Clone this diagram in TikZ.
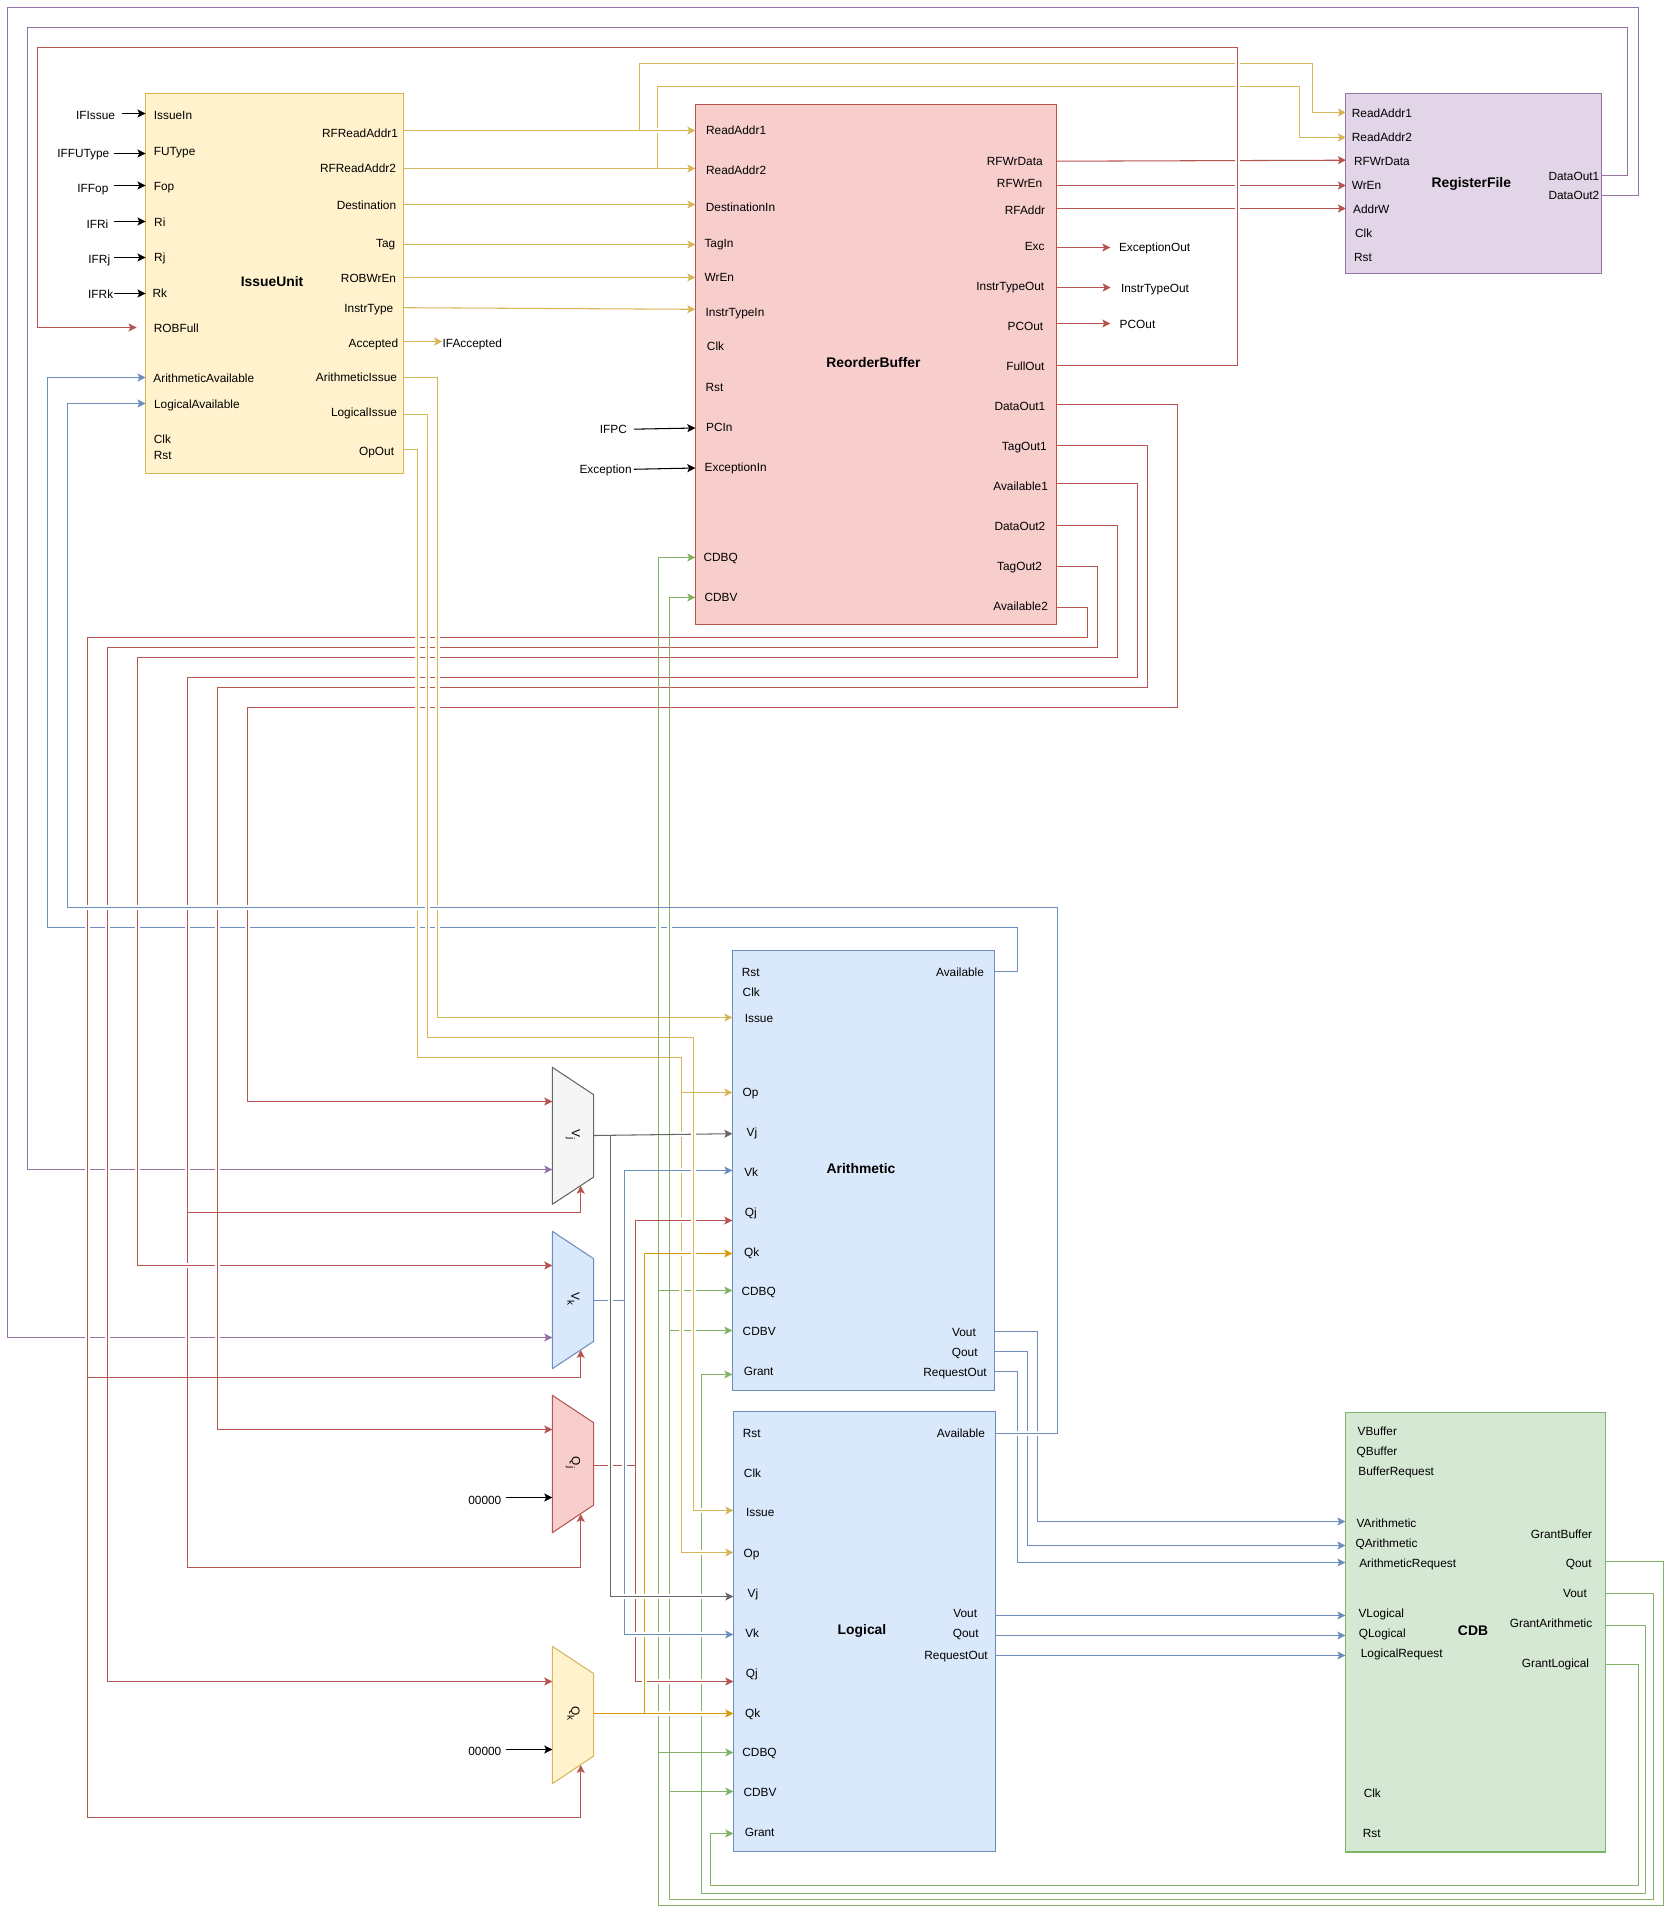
\documentclass[tikz,border=0pt]{standalone}
\usepackage{fontspec}
\setmainfont{Liberation Sans}
\usetikzlibrary{arrows.meta}
\definecolor{yellowfill}{HTML}{FFF2CC}
\definecolor{yellowline}{HTML}{D6B656}
\definecolor{redfill}{HTML}{F8CECC}
\definecolor{redline}{HTML}{B85450}
\definecolor{bluefill}{HTML}{DAE8FC}
\definecolor{blueline}{HTML}{6C8EBF}
\definecolor{greenfill}{HTML}{D5E8D4}
\definecolor{greenline}{HTML}{82B366}
\definecolor{purplefill}{HTML}{E1D5E7}
\definecolor{purpleline}{HTML}{9673A6}
\definecolor{greyfill}{HTML}{F5F5F5}
\definecolor{greyline}{HTML}{666666}
\definecolor{orangeline}{HTML}{D79B00}
\newcommand{\boxtitle}[1]{\kern-.1cm\raisebox{.06cm}{#1}}
\newcommand{\muxname}[2]{\raisebox{.1cm}{\kern-.06cm#1\raisebox{-.08cm}{\fontsize{5.6}{6}\selectfont #2}}}
\newcommand{\hop}[2]{\fill[white] (#1-2.5,#2-2.5) rectangle ++(5,5);}
\tikzset{
  block/.style={rectangle, inner sep=0pt, outer sep=0pt, line width=.6pt, font=\fontsize{7.9}{9}\selectfont\bfseries},
  muxbody/.style={line width=.6pt},
  muxtag/.style={rectangle, inner sep=0pt, outer sep=0pt, rotate=-90, minimum width=2.74cm, minimum height=.828cm, font=\fontsize{6.75}{8}\selectfont},
  lbl/.style={inner sep=0pt, yshift=-.02cm, text height=.17cm, text depth=0pt, font=\fontsize{6.75}{8}\selectfont},
  lblup/.style={lbl, yshift=.02cm},
  wire/.style={line width=.6pt},
  arr/.style={-{Stealth[length=1.6mm,width=1.6mm,inset=.35mm]}},
  ywire/.style={wire, yellowline},
  rwire/.style={wire, redline},
  bwire/.style={wire, blueline},
  gwire/.style={wire, greenline},
  pwire/.style={wire, purpleline},
  kwire/.style={wire, greyline},
  owire/.style={wire, orangeline},
  inwire/.style={wire, black, arr}
}
\begin{document}
\begin{tikzpicture}[x=0.02cm, y=-0.02cm]
  \useasboundingbox (0,0) rectangle (1675,1917);

  % blocks
  \node[block, draw=yellowline, fill=yellowfill, minimum width=5.162cm, minimum height=7.6cm] (IssueUnit) at (274.55,283.3) {\boxtitle{IssueUnit}};
  \node[block, draw=redline, fill=redfill, minimum width=7.226cm, minimum height=10.404cm] (ReorderBuffer) at (875.95,364.3) {\boxtitle{ReorderBuffer}};
  \node[block, draw=purpleline, fill=purplefill, minimum width=5.114cm, minimum height=3.598cm] (RegisterFile) at (1473.75,183.65) {\boxtitle{RegisterFile}};
  \node[block, draw=blueline, fill=bluefill, minimum width=5.248cm, minimum height=8.8cm] (Arithmetic) at (863.5,1170.3) {\boxtitle{Arithmetic}};
  \node[block, draw=blueline, fill=bluefill, minimum width=5.248cm, minimum height=8.8cm] (Logical) at (864.5,1631.3) {\boxtitle{Logical}};
  \node[block, draw=greenline, fill=greenfill, minimum width=5.208cm, minimum height=8.8cm] (CDB) at (1475.5,1632) {\boxtitle{CDB}};

  % muxes
  \draw[muxbody, draw=greyline, fill=greyfill] (552.3,1067.3) -- (593.7,1094.7) -- (593.7,1177) -- (552.3,1204.3) -- cycle;
  \draw[muxbody, draw=blueline, fill=bluefill] (552.3,1231.3) -- (593.7,1258.7) -- (593.7,1341.3) -- (552.3,1368.7) -- cycle;
  \draw[muxbody, draw=redline, fill=redfill] (552.3,1395.3) -- (593.7,1422.7) -- (593.7,1505) -- (552.3,1532.7) -- cycle;
  \draw[muxbody, draw=yellowline, fill=yellowfill] (552.3,1646.3) -- (593.7,1673.7) -- (593.7,1756) -- (552.3,1783.7) -- cycle;
  \node[muxtag] (VjMux) at (573,1135.8) {\muxname{V}{j}};
  \node[muxtag] (VkMux) at (573,1300) {\muxname{V}{k}};
  \node[muxtag] (QjMux) at (573,1464) {\muxname{Q}{j}};
  \node[muxtag] (QkMux) at (573,1715) {\muxname{Q}{k}};
  \coordinate (VjSel) at ([shift={(.154cm,.372cm)}]VjMux.east);
  \coordinate (VkSel) at ([shift={(.154cm,.372cm)}]VkMux.east);
  \coordinate (QjSel) at ([shift={(.154cm,.372cm)}]QjMux.east);
  \coordinate (QkSel) at ([shift={(.154cm,.372cm)}]QkMux.east);

  % outside signals
  \node[lbl] (IFIssue) at (95.5,114.7) {IFIssue};
  \node[lbl] (IFFUType) at (83.3,152.7) {IFFUType};
  \node[lbl] (IFFop) at (92.9,187.7) {IFFop};
  \node[lbl] (IFRi) at (97.5,223.3) {IFRi};
  \node[lbl] (IFRj) at (99.3,258.3) {IFRj};
  \node[lbl] (IFRk) at (100.7,293.7) {IFRk};
  \node[lbl] (IFAccepted) at (472.3,342.7) {IFAccepted};
  \node[lbl] (IFPC) at (613.4,428.7) {IFPC};
  \node[lbl] (Exception) at (605.6,468.7) {Exception};
  \node[lblup] (ExceptionOut) at (1154.6,247) {ExceptionOut};
  \node[lblup] (InstrTypeOut) at (1155,287.9) {InstrTypeOut};
  \node[lbl] (PCOut) at (1137.5,323.7) {PCOut};
  \node[lbl] (ZeroQj) at (484.8,1499.3) {00000};
  \node[lbl] (ZeroQk) at (484.8,1750.3) {00000};

  % issue unit ports
  \node[lbl] (iuIssueIn) at (173,114.7) {IssueIn};
  \node[lbl] (iuFUType) at (174.6,150.7) {FUType};
  \node[lbl] (iuFop) at (164,185.7) {Fop};
  \node[lbl] (iuRi) at (159.8,221.7) {Ri};
  \node[lbl] (iuRj) at (159.8,256.7) {Rj};
  \node[lbl] (iuRk) at (159.8,292.7) {Rk};
  \node[lbl] (iuROBFull) at (176.3,327.7) {ROBFull};
  \node[lbl] (iuArithmeticAvailable) at (203.8,377.7) {ArithmeticAvailable};
  \node[lbl] (iuLogicalAvailable) at (196.9,403.7) {LogicalAvailable};
  \node[lbl] (iuClk) at (162.5,438.7) {Clk};
  \node[lbl] (iuRst) at (162.7,454.7) {Rst};
  \node[lbl] (iuRFReadAddr1) at (360,132.7) {RFReadAddr1};
  \node[lbl] (iuRFReadAddr2) at (358,167.7) {RFReadAddr2};
  \node[lbl] (iuDestination) at (366.5,204.7) {Destination};
  \node[lbl] (iuTag) at (385.7,242.7) {Tag};
  \node[lbl] (iuROBWrEn) at (368.5,277.7) {ROBWrEn};
  \node[lbl] (iuInstrType) at (368.8,307.7) {InstrType};
  \node[lbl] (iuAccepted) at (373.4,342.7) {Accepted};
  \node[lbl] (iuArithmeticIssue) at (356.5,376.7) {ArithmeticIssue};
  \node[lbl] (iuLogicalIssue) at (364,411.7) {LogicalIssue};
  \node[lbl] (iuOpOut) at (376.6,450.7) {OpOut};

  % reorder buffer ports
  \node[lblup] (robReadAddr1) at (736.1,129.9) {ReadAddr1};
  \node[lblup] (robReadAddr2) at (736.1,169.9) {ReadAddr2};
  \node[lblup] (robDestinationIn) at (740.5,207) {DestinationIn};
  \node[lblup] (robTagIn) at (719,242.9) {TagIn};
  \node[lblup] (robWrEn) at (719.3,276.9) {WrEn};
  \node[lblup] (robInstrTypeIn) at (735,311.8) {InstrTypeIn};
  \node[lblup] (robClk) at (715.5,346.6) {Clk};
  \node[lblup] (robRst) at (714.5,387) {Rst};
  \node[lblup] (robPCIn) at (719.3,427) {PCIn};
  \node[lblup] (robExceptionIn) at (735.7,466.9) {ExceptionIn};
  \node[lblup] (robCDBQ) at (720.7,556.9) {CDBQ};
  \node[lblup] (robCDBV) at (721,596.9) {CDBV};
  \node[lbl] (robRFWrData) at (1014.8,160.7) {RFWrData};
  \node[lblup] (robRFWrEn) at (1019.6,183.2) {RFWrEn};
  \node[lblup] (robRFAddr) at (1025,209.8) {RFAddr};
  \node[lblup] (robExc) at (1034.7,246.1) {Exc};
  \node[lblup] (robInstrTypeOut) at (1010.3,286) {InstrTypeOut};
  \node[lblup] (robPCOut) at (1025.4,326) {PCOut};
  \node[lblup] (robFullOut) at (1025.4,365.9) {FullOut};
  \node[lblup] (robDataOut1) at (1019.9,405.9) {DataOut1};
  \node[lblup] (robTagOut1) at (1024.4,445.8) {TagOut1};
  \node[lblup] (robAvailable1) at (1020.6,485.8) {Available1};
  \node[lbl] (robDataOut2) at (1019.9,525.7) {DataOut2};
  \node[lbl] (robTagOut2) at (1019.6,565.6) {TagOut2};
  \node[lbl] (robAvailable2) at (1020.6,605) {Available2};

  % register file ports
  \node[lbl] (rfReadAddr1) at (1381.9,112.5) {ReadAddr1};
  \node[lbl] (rfReadAddr2) at (1381.9,136.4) {ReadAddr2};
  \node[lbl] (rfRFWrData) at (1381.9,160.7) {RFWrData};
  \node[lbl] (rfWrEn) at (1366.5,184.6) {WrEn};
  \node[lbl] (rfAddrW) at (1371.3,208.4) {AddrW};
  \node[lblup] (rfClk) at (1363.7,232.8) {Clk};
  \node[lbl] (rfRst) at (1363,256.7) {Rst};
  \node[lbl] (rfDataOut1) at (1573.9,174.9) {DataOut1};
  \node[lbl] (rfDataOut2) at (1573.9,194.7) {DataOut2};

  % arithmetic ports
  \node[lbl] (aRst) at (750.7,971.7) {Rst};
  \node[lbl] (aClk) at (751.3,991.7) {Clk};
  \node[lbl] (aIssue) at (759,1017.7) {Issue};
  \node[lbl] (aOp) at (750.5,1091.7) {Op};
  \node[lbl] (aVj) at (752,1131.7) {Vj};
  \node[lbl] (aVk) at (751.2,1171.7) {Vk};
  \node[lbl] (aQj) at (750.8,1211.7) {Qj};
  \node[lbl] (aQk) at (751.7,1251.7) {Qk};
  \node[lbl] (aCDBQ) at (758.7,1290.7) {CDBQ};
  \node[lbl] (aCDBV) at (759.2,1330.7) {CDBV};
  \node[lbl] (aGrant) at (758.7,1370.7) {Grant};
  \node[lbl] (aAvailable) at (960,971.7) {Available};
  \node[lbl] (aVout) at (964,1331.4) {Vout};
  \node[lbl] (aQout) at (964.7,1351.4) {Qout};
  \node[lbl] (aRequestOut) at (955,1371.4) {RequestOut};

  % logical ports
  \node[lbl] (lRst) at (751.7,1432.7) {Rst};
  \node[lbl] (lClk) at (752.5,1472.7) {Clk};
  \node[lbl] (lIssue) at (760.2,1511.7) {Issue};
  \node[lbl] (lOp) at (751.5,1552.7) {Op};
  \node[lbl] (lVj) at (753,1592.7) {Vj};
  \node[lbl] (lVk) at (752.2,1632.7) {Vk};
  \node[lbl] (lQj) at (751.8,1672.7) {Qj};
  \node[lbl] (lQk) at (752.7,1712.7) {Qk};
  \node[lbl] (lCDBQ) at (759.5,1751.7) {CDBQ};
  \node[lbl] (lCDBV) at (760,1791.7) {CDBV};
  \node[lbl] (lGrant) at (759.7,1831.7) {Grant};
  \node[lbl] (lAvailable) at (960.9,1432.7) {Available};
  \node[lbl] (lVout) at (965.2,1612.7) {Vout};
  \node[lbl] (lQout) at (965.7,1632.7) {Qout};
  \node[lbl] (lRequestOut) at (956,1654.7) {RequestOut};

  % cdb ports
  \node[lbl] (cVBuffer) at (1377.3,1430.7) {VBuffer};
  \node[lbl] (cQBuffer) at (1377,1450.7) {QBuffer};
  \node[lbl] (cBufferRequest) at (1396.2,1470.7) {BufferRequest};
  \node[lbl] (cVArithmetic) at (1386.5,1522.7) {VArithmetic};
  \node[lbl] (cQArithmetic) at (1386.5,1542.7) {QArithmetic};
  \node[lbl] (cArithmeticRequest) at (1407.7,1562.7) {ArithmeticRequest};
  \node[lbl] (cVLogical) at (1381.3,1612.7) {VLogical};
  \node[lbl] (cQLogical) at (1382.3,1632.7) {QLogical};
  \node[lbl] (cLogicalRequest) at (1401.7,1652.7) {LogicalRequest};
  \node[lbl] (cClk) at (1372.3,1792.7) {Clk};
  \node[lbl] (cRst) at (1371.7,1832.7) {Rst};
  \node[lbl] (cGrantBuffer) at (1561.5,1533.7) {GrantBuffer};
  \node[lbl] (cQout) at (1578.7,1562.7) {Qout};
  \node[lbl] (cVout) at (1575,1592.7) {Vout};
  \node[lbl] (cGrantArithmetic) at (1551,1622.7) {GrantArithmetic};
  \node[lbl] (cGrantLogical) at (1555.5,1662.7) {GrantLogical};

  % where one wire splits in two
  \coordinate (ReadOneBus) at (639.5,130.5);
  \coordinate (ReadTwoBus) at (657.5,168.5);
  \coordinate (AvailOneBus) at (187.5,1212.5);
  \coordinate (AvailTwoBus) at (87.5,1377.5);
  \coordinate (QoutArithBus) at (658.5,1290.5);
  \coordinate (QoutLogicBus) at (658.5,1752.5);
  \coordinate (VoutArithBus) at (669.5,1330.5);
  \coordinate (VoutLogicBus) at (669.5,1791.5);
  \coordinate (OpBus) at (681.5,1092.5);
  \coordinate (VjBus) at (610.5,1135.5);
  \coordinate (VkBus) at (624.5,1300.5);
  \coordinate (QjBus) at (635.5,1465.5);
  \coordinate (QkBus) at (644.5,1713.5);

  % inputs from outside
  \draw[inwire, shorten <=.128cm] (IFIssue.east |- 0,113.5) -- (IssueUnit.west |- 0,113.5);
  \draw[inwire, shorten <=.08cm] (IFFUType.east |- 0,153.5) -- (IssueUnit.west |- 0,153.5);
  \draw[inwire, shorten <=.1cm] (IFFop.east |- 0,185.5) -- (IssueUnit.west |- 0,185.5);
  \draw[inwire, shorten <=.1cm] (IFRi.east |- 0,221.5) -- (IssueUnit.west |- 0,221.5);
  \draw[inwire, shorten <=.07cm] (IFRj.east |- 0,257.5) -- (IssueUnit.west |- 0,257.5);
  \draw[inwire] (IFRk.east |- 0,293.5) -- (IssueUnit.west |- 0,293.5);
  \draw[inwire, shorten <=.13cm] (IFPC.east |- 0,429.3) -- (ReorderBuffer.west |- 0,428);
  \draw[inwire, shorten <=.04cm] (Exception.east |- 0,469.3) -- (ReorderBuffer.west |- 0,468);
  \draw[inwire, shorten <=.08cm] (ZeroQj.east |- 0,1497.5) -- (QjMux.south |- 0,1497.5);
  \draw[inwire, shorten <=.08cm] (ZeroQk.east |- 0,1749.5) -- (QkMux.south |- 0,1749.5);

  % issue unit to reorder buffer and register file
  \draw[ywire, arr] (IssueUnit.east |- ReadTwoBus) -- (ReorderBuffer.west |- ReadTwoBus);
  \draw[ywire, arr] (ReadTwoBus) -- (657.5,86.5) -| (1299.5,137.5) -- (RegisterFile.west |- 0,137.5);
  \hop{657.5}{130.5}
  \draw[ywire, arr] (IssueUnit.east |- ReadOneBus) -- (ReorderBuffer.west |- ReadOneBus);
  \draw[ywire, arr] (ReadOneBus) -- (639.5,63.5) -| (1312.5,112.5) -- (RegisterFile.west |- 0,112.5);
  \draw[ywire, arr] (IssueUnit.east |- 0,204.5) -- (ReorderBuffer.west |- 0,204.5);
  \draw[ywire, arr] (IssueUnit.east |- 0,244.5) -- (ReorderBuffer.west |- 0,244.5);
  \draw[ywire, arr] (IssueUnit.east |- 0,277.5) -- (ReorderBuffer.west |- 0,277.5);
  \draw[ywire, arr] (IssueUnit.east |- 0,307.7) -- (ReorderBuffer.west |- 0,309.3);
  \draw[ywire, arr] (IssueUnit.east |- 0,341.5) -- (IFAccepted.west |- 0,341.5);

  % reorder buffer to register file and outside
  \draw[rwire, arr] (ReorderBuffer.east |- 0,161.2) -- (RegisterFile.west |- 0,160.2);
  \draw[rwire, arr] (ReorderBuffer.east |- 0,185.5) -- (RegisterFile.west |- 0,185.5);
  \draw[rwire, arr] (ReorderBuffer.east |- 0,208.5) -- (RegisterFile.west |- 0,208.5);
  \draw[rwire, arr, shorten >=.166cm] (ReorderBuffer.east |- 0,247.5) -- (ExceptionOut.west |- 0,247.5);
  \draw[rwire, arr, shorten >=.2cm] (ReorderBuffer.east |- 0,287.5) -- (InstrTypeOut.west |- 0,287.5);
  \draw[rwire, arr, shorten >=.18cm] (ReorderBuffer.east |- 0,323.5) -- (PCOut.west |- 0,323.5);
  \hop{1237.5}{63.5} \hop{1237.5}{86.5} \hop{1237.5}{160.7} \hop{1237.5}{185.5} \hop{1237.5}{208.5}
  \draw[rwire, arr, shorten >=.18cm] (ReorderBuffer.east |- 0,365.5) -| (1237.5,47.5) -| (37.5,327.5) -- (IssueUnit.west |- 0,327.5);

  % register file back to the muxes
  \draw[pwire, arr] (RegisterFile.east |- 0,195.5) -| (1638.5,7.5) -| (7.5,1337.5) -- (VkMux.south |- 0,1337.5);
  \draw[pwire, arr] (RegisterFile.east |- 0,175.5) -| (1627.5,27.5) -| (27.5,1169.5) -- (VjMux.south |- 0,1169.5);
  \hop{87.5}{1169.5} \hop{107.5}{1169.5} \hop{137.5}{1169.5} \hop{187.5}{1169.5} \hop{217.5}{1169.5}
  \hop{87.5}{1337.5} \hop{107.5}{1337.5} \hop{187.5}{1337.5} \hop{217.5}{1337.5}

  % arithmetic available
  \draw[bwire, arr] (Arithmetic.east |- 0,971.5) -| (1017.5,927.5) -| (47.5,377.5) -- (IssueUnit.west |- 0,377.5);
  \hop{87.5}{927.5} \hop{107.5}{927.5} \hop{137.5}{927.5} \hop{187.5}{927.5} \hop{217.5}{927.5} \hop{247.5}{927.5}
  \hop{417.5}{927.5} \hop{427.5}{927.5} \hop{437.5}{927.5} \hop{658.5}{927.5} \hop{669.5}{927.5}

  % reorder buffer to the muxes
  \draw[rwire, arr] (ReorderBuffer.east |- 0,483.5) -| (1137.5,677.5) -| (187.5,1567.5) -| (QjSel);
  \draw[rwire, arr] (AvailOneBus) -| (VjSel);
  \draw[rwire, arr] (ReorderBuffer.east |- 0,607.5) -| (1087.5,637.5) -| (87.5,1817.5) -| (QkSel);
  \draw[rwire, arr] (AvailTwoBus) -| (VkSel);
  \draw[rwire, arr] (ReorderBuffer.east |- 0,566.5) -| (1097.5,647.5) -| (107.5,1681.5) -- (QkMux.south |- 0,1681.5);
  \draw[rwire, arr] (ReorderBuffer.east |- 0,404.5) -| (1177.5,707.5) -| (247.5,1101.5) -- (VjMux.south |- 0,1101.5);
  \hop{187.5}{1265.5}
  \draw[rwire, arr] (ReorderBuffer.east |- 0,525.5) -| (1117.5,657.5) -| (137.5,1265.5) -- (VkMux.south |- 0,1265.5);
  \hop{217.5}{1265.5}
  \draw[rwire, arr] (ReorderBuffer.east |- 0,445.5) -| (1147.5,687.5) -| (217.5,1429.5) -- (QjMux.south |- 0,1429.5);
  \hop{417.5}{637.5} \hop{427.5}{637.5} \hop{437.5}{637.5}
  \hop{417.5}{647.5} \hop{427.5}{647.5} \hop{437.5}{647.5}
  \hop{417.5}{657.5} \hop{427.5}{657.5} \hop{437.5}{657.5}
  \hop{417.5}{677.5} \hop{427.5}{677.5} \hop{437.5}{677.5}
  \hop{417.5}{687.5} \hop{427.5}{687.5} \hop{437.5}{687.5}
  \hop{417.5}{707.5} \hop{427.5}{707.5} \hop{437.5}{707.5}

  % cdb back to the units
  \draw[gwire, arr] (CDB.east |- 0,1561.5) -| (1663.5,1905.5) -| (658.5,557.5) -- (ReorderBuffer.west |- 0,557.5);
  \draw[gwire, arr] (QoutArithBus) -- (Arithmetic.west |- QoutArithBus);
  \draw[gwire, arr] (QoutLogicBus) -- (Logical.west |- QoutLogicBus);
  \draw[gwire, arr] (CDB.east |- 0,1593.5) -| (1653.5,1899.5) -| (669.5,597.5) -- (ReorderBuffer.west |- 0,597.5);
  \draw[gwire, arr] (VoutArithBus) -- (Arithmetic.west |- VoutArithBus);
  \draw[gwire, arr] (VoutLogicBus) -- (Logical.west |- VoutLogicBus);
  \draw[gwire, arr] (CDB.east |- 0,1625.5) -| (1645.5,1893.5) -| (701.5,1374.5) -- (Arithmetic.west |- 0,1374.5);
  \draw[gwire, arr] (CDB.east |- 0,1664.5) -| (1638.5,1885.5) -| (710.5,1833.5) -- (Logical.west |- 0,1833.5);
  \hop{681.5}{1290.5} \hop{681.5}{1330.5} \hop{701.5}{1552.5} \hop{701.5}{1510.5}

  % issue and op out
  \draw[ywire, arr] (IssueUnit.east |- 0,449.5) -| (417.5,1057.5) -| (681.5,1552.5) -- (Logical.west |- 0,1552.5);
  \draw[ywire, arr] (OpBus) -- (Arithmetic.west |- OpBus);
  \draw[ywire, arr] (IssueUnit.east |- 0,377.5) -| (437.5,1017.5) -- (Arithmetic.west |- 0,1017.5);

  % arithmetic to cdb, logical available
  \draw[bwire, arr] (Arithmetic.east |- 0,1331.5) -| (1037.5,1521.5) -- (CDB.west |- 0,1521.5);
  \draw[bwire, arr] (Arithmetic.east |- 0,1351.5) -| (1027.5,1545.5) -- (CDB.west |- 0,1545.5);
  \draw[bwire, arr] (Arithmetic.east |- 0,1371.5) -| (1017.5,1562.5) -- (CDB.west |- 0,1562.5);
  \hop{1017.5}{1433.5} \hop{1027.5}{1433.5} \hop{1037.5}{1433.5}
  \hop{87.5}{907.5} \hop{107.5}{907.5} \hop{137.5}{907.5} \hop{187.5}{907.5} \hop{217.5}{907.5} \hop{247.5}{907.5}
  \hop{417.5}{907.5} \hop{437.5}{907.5}
  \draw[bwire, arr] (Logical.east |- 0,1433.5) -| (1057.5,907.5) -| (67.5,403.5) -- (IssueUnit.west |- 0,403.5);
  \hop{427.5}{907.5}

  % mux outputs
  \hop{658.5}{1681.5} \hop{669.5}{1681.5} \hop{701.5}{1681.5} \hop{681.5}{1220.5}
  \draw[rwire] (QjMux.north |- QjBus) -- (QjBus);
  \draw[rwire, arr] (QjBus) |- (Logical.west |- 0,1681.5);
  \draw[rwire, arr] (QjBus) |- (Arithmetic.west |- 0,1220.5);
  \hop{644.5}{1681.5} \hop{681.5}{1253.5}
  \draw[owire, arr] (QkBus) |- (Arithmetic.west |- 0,1253.5);
  \hop{635.5}{1634.5} \hop{644.5}{1634.5} \hop{658.5}{1634.5} \hop{669.5}{1634.5} \hop{701.5}{1634.5}
  \hop{624.5}{1465.5} \hop{681.5}{1170.5}
  \draw[bwire] (VkMux.north |- VkBus) -- (VkBus);
  \draw[bwire, arr] (VkBus) |- (Logical.west |- 0,1634.5);
  \draw[bwire, arr] (VkBus) |- (Arithmetic.west |- 0,1170.5);
  \hop{624.5}{1596.5} \hop{635.5}{1596.5} \hop{644.5}{1596.5} \hop{658.5}{1596.5} \hop{669.5}{1596.5} \hop{701.5}{1596.5}
  \hop{610.5}{1465.5} \hop{610.5}{1300.5} \hop{681.5}{1134.5}
  \draw[kwire, arr] (VjMux.north |- VjBus) -- (Arithmetic.west |- 0,1133.7);
  \draw[kwire, arr] (VjBus) |- (Logical.west |- 0,1596.5);
  \hop{658.5}{1713.5} \hop{669.5}{1713.5} \hop{701.5}{1713.5}
  \draw[owire, arr] (QkMux.north |- QkBus) -- (Logical.west |- QkBus);

  % logical issue
  \hop{693.5}{1134.5} \hop{693.5}{1170.5} \hop{693.5}{1220.5} \hop{693.5}{1253.5} \hop{693.5}{1290.5} \hop{693.5}{1330.5}
  \draw[ywire, arr] (IssueUnit.east |- 0,414.5) -| (427.5,1037.5) -| (693.5,1510.5) -- (Logical.west |- 0,1510.5);

  % logical to cdb
  \draw[bwire, arr] (Logical.east |- 0,1615.5) -- (CDB.west |- 0,1615.5);
  \draw[bwire, arr] (Logical.east |- 0,1635.5) -- (CDB.west |- 0,1635.5);
  \draw[bwire, arr] (Logical.east |- 0,1655.5) -- (CDB.west |- 0,1655.5);
\end{tikzpicture}
\end{document}
